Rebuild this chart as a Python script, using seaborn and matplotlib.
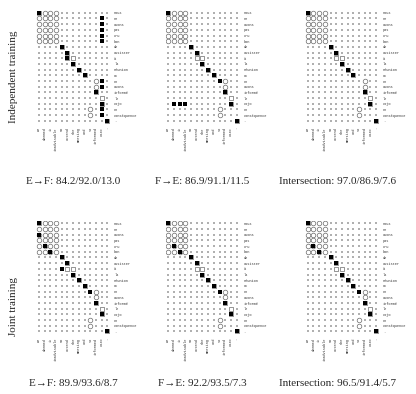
import matplotlib
matplotlib.use("Agg")
import matplotlib.pyplot as plt
import seaborn as sns
import pandas as pd

# English words (columns) and French words (rows)
en_words = ["we", "deemed", "it", "inadvisable", "to", "attend", "the",
            "meeting", "and", "so", "informed", "COJO", "."]
fr_words = ["nous", "ne", "avons", "pas", "cru", "bon", "de", "assister", "à",
            "la", "réunion", "et", "en", "avons", "informé", "le", "cojo", "en",
            "conséquence", "."]

# gold alignments as (row, col)
gold_sure = [(0, 0), (6, 4), (7, 5), (8, 5), (8, 6), (9, 6), (10, 7), (11, 8),
             (14, 10), (15, 11), (16, 11), (19, 12)]
gold_possible = [(0, 1), (0, 2), (0, 3),
                 (1, 0), (1, 1), (1, 2), (1, 3),
                 (2, 0), (2, 1), (2, 2), (2, 3),
                 (3, 0), (3, 1), (3, 2), (3, 3),
                 (4, 0), (4, 1), (4, 2), (4, 3),
                 (5, 0), (5, 1), (5, 2), (5, 3),
                 (12, 10), (13, 10), (17, 9), (18, 9)]

# predicted alignments for each panel
pred_ef_indep = [(0, 0), (1, 11), (2, 11), (3, 11), (4, 11), (5, 11), (6, 4),
                 (7, 5), (8, 5), (9, 6), (10, 7), (11, 8), (12, 11), (13, 11),
                 (14, 10), (16, 11), (17, 11), (18, 11), (19, 12)]
pred_fe_indep = [(0, 0), (6, 4), (7, 5), (9, 6), (10, 7), (11, 8), (12, 9),
                 (14, 10), (16, 1), (16, 2), (16, 3), (16, 11), (19, 12)]
pred_int_indep = [(0, 0), (6, 4), (7, 5), (9, 6), (10, 7), (11, 8), (14, 10),
                  (16, 11), (19, 12)]
pred_ef_joint = [(0, 0), (2, 0), (4, 1), (5, 2), (6, 4), (7, 5), (8, 4), (9, 6),
                 (10, 7), (11, 8), (12, 9), (14, 10), (16, 11), (19, 12)]
pred_fe_joint = [(0, 0), (4, 1), (5, 2), (6, 4), (7, 5), (9, 6), (10, 7),
                 (11, 8), (12, 9), (14, 10), (16, 11), (19, 12)]
pred_int_joint = [(0, 0), (4, 1), (5, 2), (6, 4), (7, 5), (9, 6), (10, 7),
                  (11, 8), (12, 9), (14, 10), (16, 11), (19, 12)]

titles_indep = ["E→F: 84.2/92.0/13.0", "F→E: 86.9/91.1/11.5",
                "Intersection: 97.0/86.9/7.6"]
titles_joint = ["E→F: 89.9/93.6/8.7", "F→E: 92.2/93.5/7.3",
                "Intersection: 96.5/91.4/5.7"]
row_labels = ["Independent training", "Joint training"]

sns.set_style("white")
plt.rcParams["font.family"] = ["Liberation Serif", "DejaVu Serif"]

W, H = 416, 394
fig = plt.figure(figsize=(W / 100, H / 100), dpi=100)

cell = 5.69
lefts = [36.2, 165.5, 304.9]
tops = [9.9, 220.5]
title_x = [73, 202, 338]
title_y = [181.5, 384]


def to_df(pairs):
    return pd.DataFrame(pairs, columns=["row", "col"])


grid = pd.MultiIndex.from_product([range(len(fr_words)), range(len(en_words))],
                                  names=["row", "col"]).to_frame(index=False)

preds = [[pred_ef_indep, pred_fe_indep, pred_int_indep],
         [pred_ef_joint, pred_fe_joint, pred_int_joint]]
titles = [titles_indep, titles_joint]

for r in range(2):
    for c in range(3):
        w = len(en_words) * cell
        h = len(fr_words) * cell
        ax = fig.add_axes([lefts[c] / W, (H - tops[r] - h) / H, w / W, h / H])
        sns.scatterplot(data=grid, x="col", y="row", ax=ax, s=0.8, color="#b0b0b0",
                        linewidth=0, marker="s", legend=False, zorder=1)
        sns.scatterplot(data=to_df(gold_possible), x="col", y="row", ax=ax, s=11,
                        marker="o", facecolor="white", edgecolor="#6a6a6a",
                        linewidth=0.5, legend=False, zorder=2)
        sns.scatterplot(data=to_df(gold_sure), x="col", y="row", ax=ax, s=10.5,
                        marker="s", facecolor="white", edgecolor="#6a6a6a",
                        linewidth=0.5, legend=False, zorder=2)
        sns.scatterplot(data=to_df(preds[r][c]), x="col", y="row", ax=ax, s=6,
                        marker="s", color="black", linewidth=0, legend=False,
                        zorder=3)
        ax.set_xlim(-0.5, len(en_words) - 0.5)
        ax.set_ylim(len(fr_words) - 0.5, -0.5)
        ax.set_xticks(range(len(en_words)))
        ax.set_xticklabels(en_words, rotation=90, fontsize=2.6,
                           family="Liberation Mono", color="#333333")
        ax.set_yticks(range(len(fr_words)))
        ax.set_yticklabels(fr_words, fontsize=2.6, family="Liberation Mono",
                           color="#333333")
        ax.yaxis.tick_right()
        ax.tick_params(axis="x", length=0, pad=2.5)
        ax.tick_params(axis="y", length=0, pad=2.8)
        ax.set_xlabel("")
        ax.set_ylabel("")
        for s in ax.spines.values():
            s.set_visible(False)
        ax.set_facecolor("none")
        fig.text(title_x[c] / W, 1 - title_y[r] / H, titles[r][c], fontsize=8,
                 ha="center", va="center")

fig.text(13.5 / W, 1 - 77 / H, row_labels[0], rotation=90, fontsize=8,
         ha="center", va="center")
fig.text(13.5 / W, 1 - 306 / H, row_labels[1], rotation=90, fontsize=8,
         ha="center", va="center")

fig.savefig("out.png", dpi=100)
